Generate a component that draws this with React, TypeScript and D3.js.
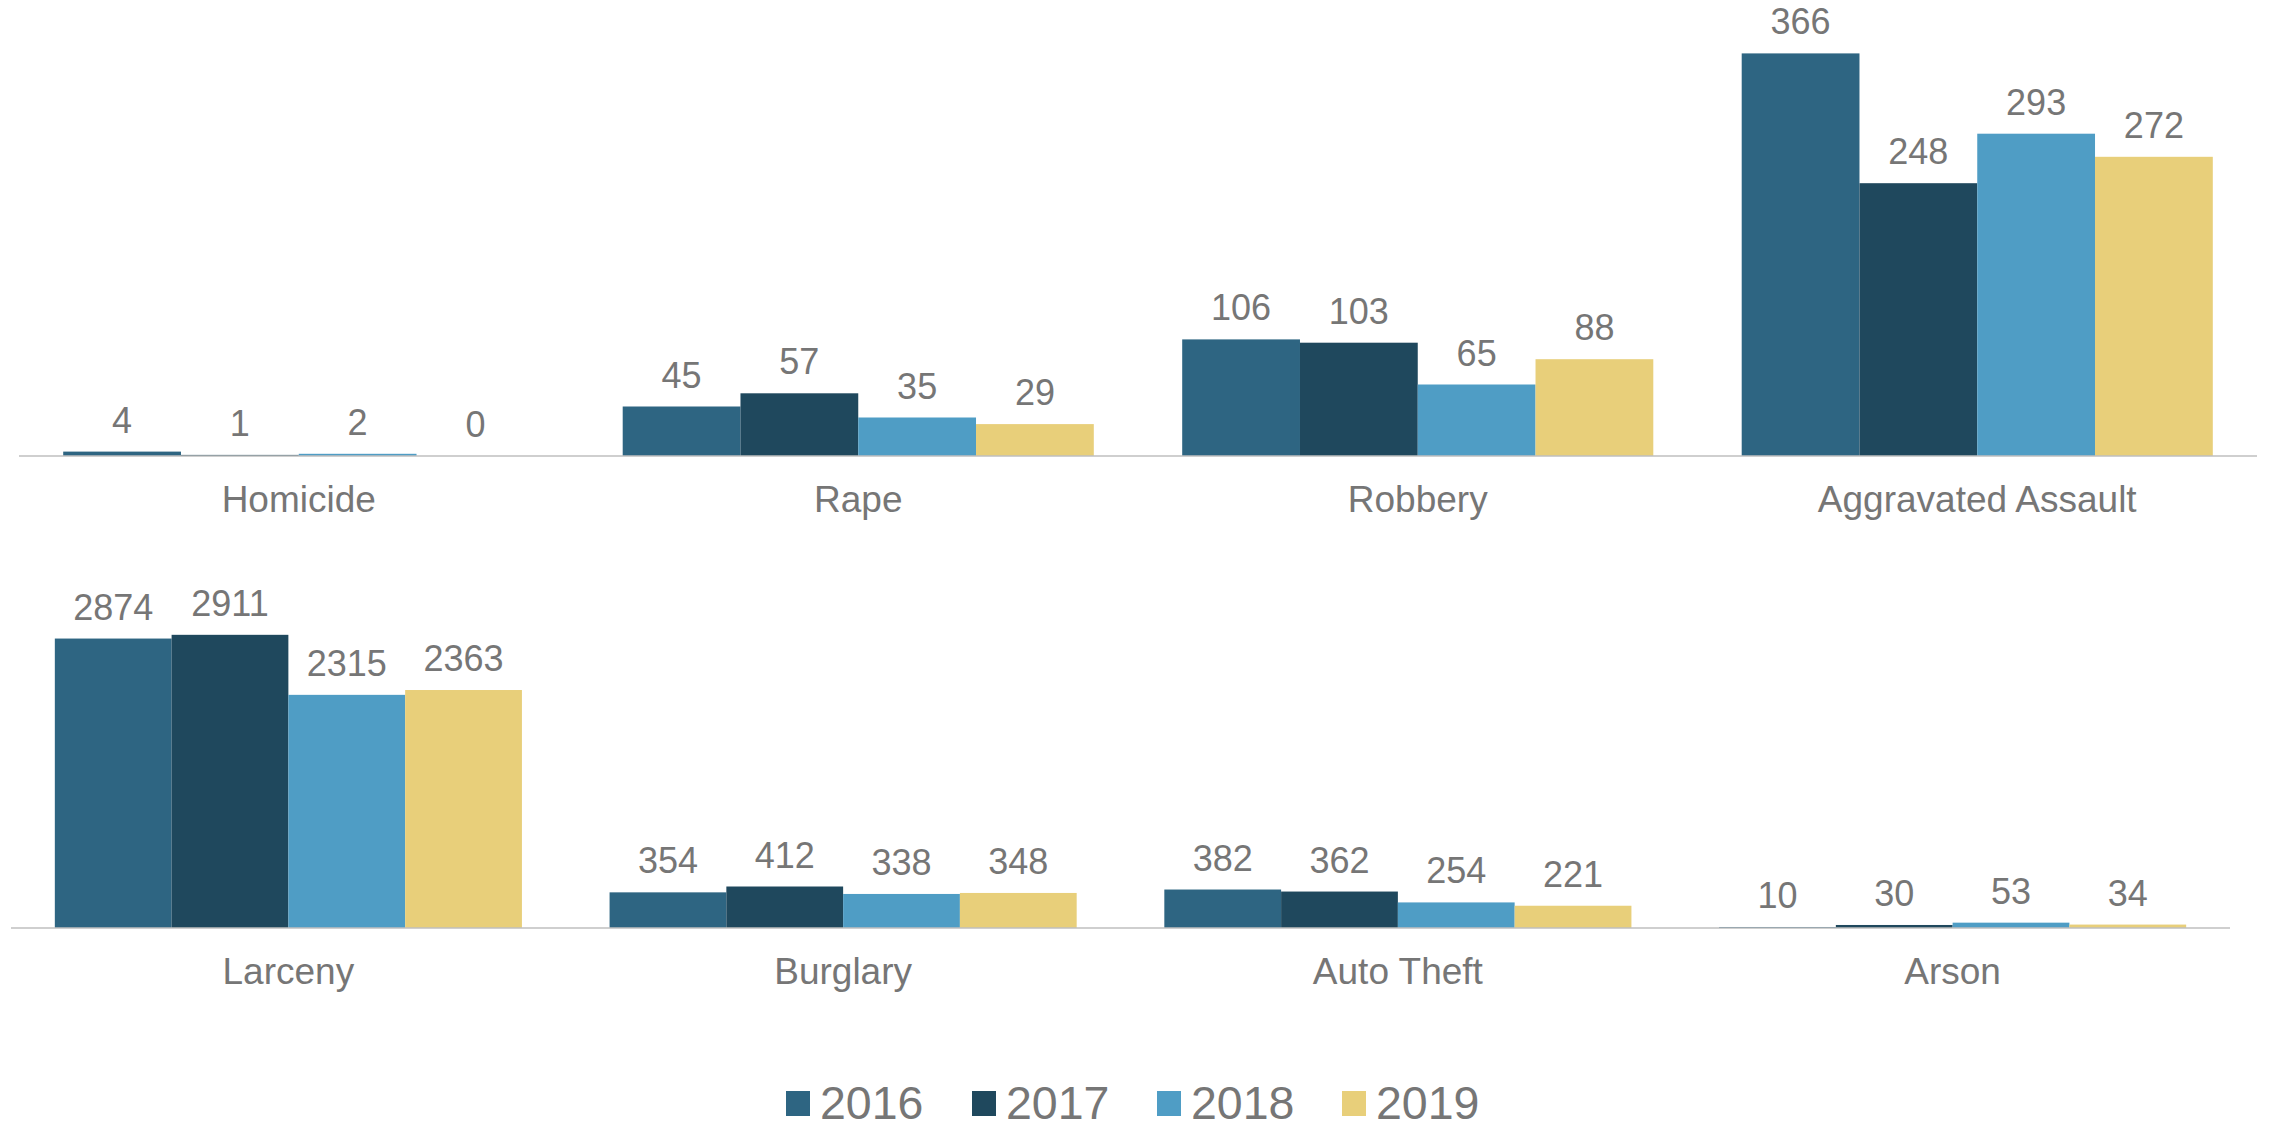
import React from "react";
import * as d3 from "d3";

const years = ["2016", "2017", "2018", "2019"];
const violentCategories = ["Homicide", "Rape", "Robbery", "Aggravated Assault"];
const propertyCategories = ["Larceny", "Burglary", "Auto Theft", "Arson"];

const violent2016 = [4, 45, 106, 366];
const violent2017 = [1, 57, 103, 248];
const violent2018 = [2, 35, 65, 293];
const violent2019 = [0, 29, 88, 272];

const property2016 = [2874, 354, 382, 10];
const property2017 = [2911, 412, 362, 30];
const property2018 = [2315, 338, 254, 53];
const property2019 = [2363, 348, 221, 34];

const colors = ["#2E6582", "#1F485D", "#4F9DC5", "#E8CF7A"];
const textColor = "#767676";
const FONT = "'Liberation Sans', Arial, Helvetica, sans-serif";

const W = 2269;
const H = 1124;

type PanelProps = {
  categories: string[];
  series: number[][];
  x0: number;
  x1: number;
  baseY: number;
  topY: number;
  maxV: number;
};

function Panel({ categories, series, x0, x1, baseY, topY, maxV }: PanelProps) {
  const xCat = d3.scaleBand<string>().domain(categories).range([x0, x1]).paddingInner(0.158).paddingOuter(0.079);
  const xYear = d3.scaleBand<string>().domain(years).range([0, xCat.bandwidth()]).padding(0);
  const y = d3.scaleLinear().domain([0, maxV]).range([baseY, topY]);
  return (
    <g>
      {categories.map((c, ci) => (
        <g key={c}>
          {years.map((yr, yi) => {
            const v = series[yi][ci];
            const bx = (xCat(c) as number) + (xYear(yr) as number);
            const top = y(v);
            return (
              <g key={yr}>
                <rect x={bx} y={top} width={xYear.bandwidth()} height={Math.max(0, baseY - top)} fill={colors[yi]} />
                <text
                  x={bx + xYear.bandwidth() / 2}
                  y={top - 19}
                  textAnchor="middle"
                  fontFamily={FONT}
                  fontSize={36}
                  fill={textColor}
                >
                  {v}
                </text>
              </g>
            );
          })}
          <text
            x={(xCat(c) as number) + xCat.bandwidth() / 2}
            y={baseY + 56}
            textAnchor="middle"
            fontFamily={FONT}
            fontSize={37}
            fill={textColor}
          >
            {c}
          </text>
        </g>
      ))}
      <line x1={x0} x2={x1} y1={baseY} y2={baseY} stroke="#BFBFBF" strokeWidth={1.5} />
    </g>
  );
}

export default function App() {
  const legendX = [786, 972, 1157, 1342];
  return (
    <svg
      width={W}
      height={H}
      viewBox={`0 0 ${W} ${H}`}
      style={{ position: "absolute", left: 0, top: 0, display: "block", background: "#fff" }}
    >
      <rect x={0} y={0} width={W} height={H} fill="#fff" />
      <Panel
        categories={violentCategories}
        series={[violent2016, violent2017, violent2018, violent2019]}
        x0={19}
        x1={2257}
        baseY={456}
        topY={16}
        maxV={400}
      />
      <Panel
        categories={propertyCategories}
        series={[property2016, property2017, property2018, property2019]}
        x0={11}
        x1={2230}
        baseY={928}
        topY={575.5}
        maxV={3500}
      />
      <g>
        {years.map((yr, i) => (
          <g key={yr}>
            <rect x={legendX[i]} y={1091} width={24} height={25} fill={colors[i]} />
            <text x={legendX[i] + 34} y={1119} fontFamily={FONT} fontSize={46.5} fill={textColor}>
              {yr}
            </text>
          </g>
        ))}
      </g>
    </svg>
  );
}
